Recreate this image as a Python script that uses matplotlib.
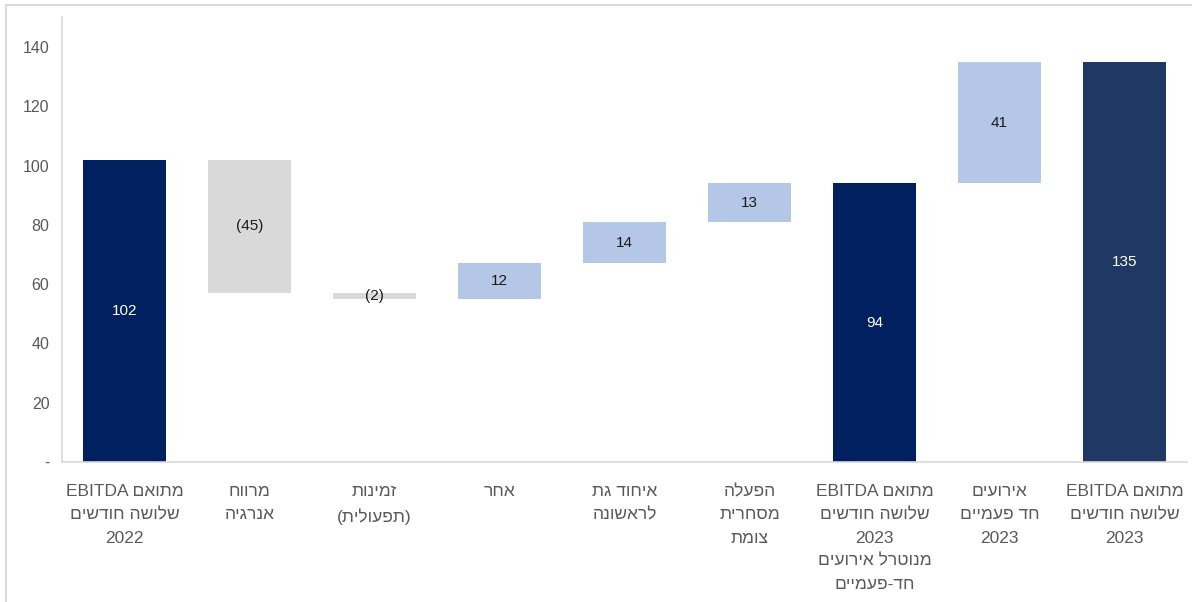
import re
import matplotlib.pyplot as plt
from matplotlib.lines import Line2D

# waterfall steps: totals are full bars, the rest float on the running sum
categories = [
    "EBITDA מתואם\nשלושה חודשים\n2022",
    "מרווח\nאנרגיה",
    "זמינות\n(תפעולית)",
    "אחר",
    "איחוד גת\nלראשונה",
    "הפעלה\nמסחרית\nצומת",
    "EBITDA מתואם\nשלושה חודשים\n2023\nמנוטרל אירועים\nחד-פעמיים",
    "אירועים\nחד פעמיים\n2023",
    "EBITDA מתואם\nשלושה חודשים\n2023",
]
values = [102, -45, -2, 12, 14, 13, 94, 41, 135]
is_total = [True, False, False, False, False, False, True, False, True]
value_labels = ["102", "(45)", "(2)", "12", "14", "13", "94", "41", "135"]

y_ticks = [0, 20, 40, 60, 80, 100, 120, 140]
y_tick_labels = ["-", "20", "40", "60", "80", "100", "120", "140"]

total_colors = ["#002060", "#002060", "#203864"]
down_color = "#D9D9D9"
up_color = "#B4C7E7"

heb_run = re.compile(r"[\u0590-\u05FF]+(?:[ \-][\u0590-\u05FF]+)*")


def visual(text):
    # matplotlib lays glyphs out left to right, so flip the Hebrew runs
    lines = []
    for line in text.split("\n"):
        lines.append(heb_run.sub(lambda m: m.group(0)[::-1], line))
    return "\n".join(lines)


plt.rcParams['font.family'] = ['Liberation Sans', 'DejaVu Sans']

fig = plt.figure(figsize=(11.92, 6.02), dpi=100)
ax = fig.add_axes([0.052, 0.2326, 0.9438, 0.7384])

bottoms = []
heights = []
colors = []
running = 0
t = 0
for v, tot in zip(values, is_total):
    if tot:
        bottoms.append(0)
        heights.append(v)
        colors.append(total_colors[t])
        t += 1
        running = v
    else:
        bottoms.append(min(running, running + v))
        heights.append(abs(v))
        colors.append(up_color if v > 0 else down_color)
        running += v

x = list(range(len(values)))
ax.bar(x, heights, bottom=bottoms, width=0.66, color=colors, zorder=2)

for i in x:
    mid = bottoms[i] + heights[i] / 2
    txt_color = "white" if is_total[i] else "#1a1a1a"
    ax.text(i, mid, value_labels[i], ha="center", va="center",
            fontsize=11, color=txt_color, zorder=3)

ax.set_xlim(-0.5, len(values) - 0.5)
ax.set_ylim(0, 150)
ax.set_yticks(y_ticks)
ax.set_yticklabels(y_tick_labels)
ax.set_xticks(x)
ax.set_xticklabels([visual(c) for c in categories], fontsize=12.5,
                   color="#595959", linespacing=1.68, va="top")

ax.tick_params(axis="y", length=0, labelsize=11.5, labelcolor="#595959", pad=9)
ax.tick_params(axis="x", length=0, pad=16)

for side in ["top", "right"]:
    ax.spines[side].set_visible(False)
for side in ["left", "bottom"]:
    ax.spines[side].set_color("#D9D9D9")
    ax.spines[side].set_linewidth(1.2)

# chart area frame (top and left edges)
fig.add_artist(Line2D([0.005, 1.0], [0.991, 0.991], color="#D9D9D9", lw=1.5,
                      transform=fig.transFigure))
fig.add_artist(Line2D([0.005, 0.005], [0.0, 0.991], color="#D9D9D9", lw=1.5,
                      transform=fig.transFigure))

fig.savefig("out.png", dpi=100)
